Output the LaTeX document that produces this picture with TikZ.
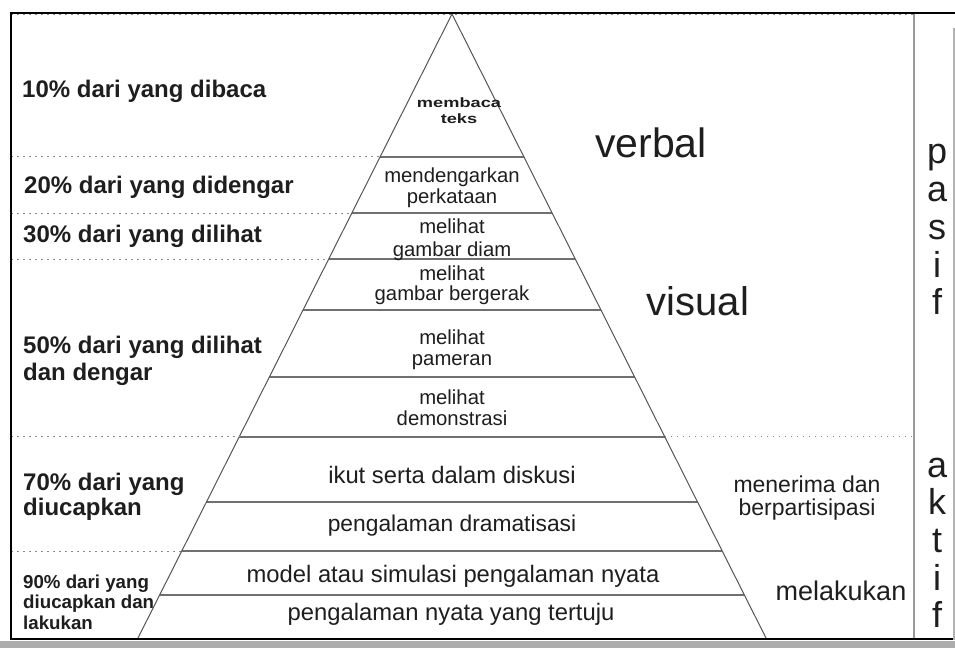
\documentclass[tikz,border=0pt]{standalone}
\usepackage{fontspec}
\setmainfont{Liberation Sans}
\usetikzlibrary{calc}
\definecolor{ink}{HTML}{1E1E1E}
\definecolor{edgec}{HTML}{555555}
\definecolor{sepc}{HTML}{707070}
\definecolor{dotc}{HTML}{8A8A8A}
\begin{document}
\begin{tikzpicture}[x=1pt,y=-1pt,
  edge/.style={draw=edgec, line width=1pt},
  sep/.style={draw=sepc, line width=1.3pt},
  dotsep/.style={draw=dotc, line width=1pt, dash pattern=on 1.5pt off 4.5pt},
  framel/.style={draw=black, line width=2.2pt},
  greyv/.style={draw=black!40, line width=1.6pt},
  lbig/.style={font=\fontsize{24}{24}\selectfont\bfseries, text=ink, anchor=base west, inner sep=0pt},
  lsmall/.style={font=\fontsize{18.7}{18.7}\selectfont\bfseries, text=ink, anchor=base west, inner sep=0pt},
  pyr/.style={font=\fontsize{20.3}{20}\selectfont, text=ink, anchor=base, inner sep=0pt},
  pyrbig/.style={font=\fontsize{23.8}{24}\selectfont, text=ink, anchor=base, inner sep=0pt},
  tiny/.style={font=\fontsize{13.5}{13.5}\selectfont\bfseries, text=ink, anchor=base, inner sep=0pt},
  side/.style={text=ink, anchor=base, inner sep=0pt},
  letter/.style={font=\fontsize{36}{36}\selectfont, text=ink, anchor=base, inner sep=0pt}
]
\useasboundingbox (0,0) rectangle (955,648);
\fill[white] (0,0) rectangle (955,648);
\fill[black!32] (0,641) rectangle (955,648);

% frame coordinates
\coordinate (FL) at (11,13);
\coordinate (FR) at (953,13);
\coordinate (FBL) at (11,639);
\coordinate (FBR) at (953,639);
\coordinate (VT) at (914,14);
\coordinate (VB) at (914,638);
\coordinate (WT) at (954,28);
\coordinate (WB) at (954,640);

% pyramid
\coordinate (A) at (452,14);
\coordinate (BL) at (138,638);
\coordinate (BR) at (766,638);
\foreach \n/\yy in {1/157,2/213,3/259,4/310,5/377,6/437,7/502,8/551,9/595} {
  \coordinate (L\n) at ($(A)!{(\yy-14)/624}!(BL)$);
  \coordinate (R\n) at ($(A)!{(\yy-14)/624}!(BR)$);
}
\foreach \n in {1,...,9} { \draw[sep] (L\n) -- (R\n); }
\draw[edge] (BL) -- (A) -- (BR);

% dotted guide lines
\draw[dotsep] (A -| FL) -- (A) -- (VT);
\foreach \n in {1,2,3,6,8} { \draw[dotsep] (L\n -| FL) -- (L\n); }
\draw[dotsep] (BL -| FL) -- (BL);
\draw[dotsep] (R6) -- (R6 -| VT);
\draw[dotsep] (BR) -- (BR -| VT);

% frame
\draw[greyv] (VT) -- (VB);
\draw[draw=black!30, line width=2pt] (WT) -- (WB);
\draw[framel] (FBR) -- (FBL) -- (FL) -- (FR) -- (955,13);

% left labels
\node[lbig] (p10) at (22,97) {10\% dari yang dibaca};
\node[lbig] (p20) at (24,193) {20\% dari yang didengar};
\node[lbig] (p30) at (23,242) {30\% dari yang dilihat};
\node[lbig] (p50a) at (23,353) {50\% dari yang dilihat};
\node[lbig] (p50b) at (23,380) {dan dengar};
\node[lbig] (p70a) at (23,490) {70\% dari yang};
\node[lbig] (p70b) at (23,515) {diucapkan};
\node[lsmall] (p90a) at (23,588) {90\% dari yang};
\node[lsmall] (p90b) at (23,608) {diucapkan dan};
\node[lsmall] (p90c) at (23,629) {lakukan};

% pyramid texts
\node[tiny] (t1a) at (459,107) {\scalebox{1.35}[1]{membaca}};
\node[tiny] (t1b) at (459,123) {\scalebox{1.35}[1]{teks}};
\node[pyr] (t2a) at (452,182) {mendengarkan};
\node[pyr] (t2b) at (452,203) {perkataan};
\node[pyr] (t3a) at (452,233) {melihat};
\node[pyr] (t3b) at (452,256) {gambar diam};
\node[pyr] (t4a) at (452,280) {melihat};
\node[pyr] (t4b) at (452,300) {gambar bergerak};
\node[pyr] (t5a) at (452,344) {melihat};
\node[pyr] (t5b) at (452,365) {pameran};
\node[pyr] (t6a) at (452,404) {melihat};
\node[pyr] (t6b) at (452,425) {demonstrasi};
\node[pyrbig] (t7) at (452,483) {ikut serta dalam diskusi};
\node[pyrbig, font=\fontsize{22.8}{23}\selectfont] (t8) at (452,531) {pengalaman dramatisasi};
\node[pyrbig] (t9) at (453,582) {model atau simulasi pengalaman nyata};
\node[pyrbig] (t10) at (451,620) {pengalaman nyata yang tertuju};

% right labels
\node[side, font=\fontsize{41}{41}\selectfont] (verbal) at (651,157) {verbal};
\node[side, font=\fontsize{40}{40}\selectfont] (visual) at (698,315) {visual};
\node[side, font=\fontsize{23}{23}\selectfont] (mena) at (807,492) {menerima dan};
\node[side, font=\fontsize{23}{23}\selectfont] (menb) at (807,515) {berpartisipasi};
\node[side, font=\fontsize{27}{27}\selectfont] (mel) at (841,600) {melakukan};

% vertical words
\node[letter] (pa1) at (937,163) {p};
\node[letter] (pa2) at (937,201) {a};
\node[letter] (pa3) at (937,239) {s};
\node[letter] (pa4) at (937,277) {i};
\node[letter] (pa5) at (937,314) {f};
\node[letter] (ak1) at (937,477) {a};
\node[letter] (ak2) at (937,514) {k};
\node[letter] (ak3) at (937,552) {t};
\node[letter] (ak4) at (937,590) {i};
\node[letter] (ak5) at (937,627) {f};
\end{tikzpicture}
\end{document}
